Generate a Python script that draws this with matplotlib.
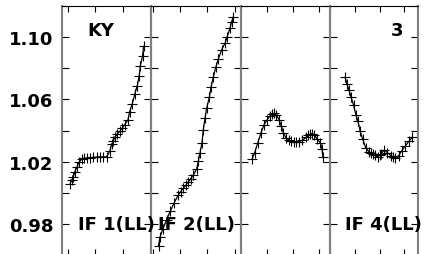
import numpy as np
import matplotlib
matplotlib.use("Agg")
import matplotlib.pyplot as plt

# panel 1 (KY, IF 1)
x1 = [0.07, 0.13, 0.19, 0.25, 0.32, 0.40, 0.50, 0.58, 0.68, 0.80, 0.92, 1.04, 1.16, 1.28,
      1.41, 1.53, 1.59, 1.66, 1.71, 1.80, 1.89, 1.98, 2.07, 2.19, 2.25, 2.35, 2.44, 2.53,
      2.60, 2.64, 2.72, 2.76]
y1 = [1.0055, 1.0080, 1.0101, 1.0135, 1.0164, 1.0195, 1.0217, 1.0222, 1.0223, 1.0226, 1.0227,
      1.0229, 1.0231, 1.0230, 1.0231, 1.0269, 1.0311, 1.0335, 1.0357, 1.0378, 1.0395, 1.0415,
      1.0437, 1.0469, 1.0521, 1.0573, 1.0636, 1.0689, 1.0752, 1.0815, 1.0878, 1.0941]

# panel 2 (IF 2)
x2 = [0.22, 0.27, 0.37, 0.52, 0.64, 0.78, 0.94, 1.03, 1.12, 1.21, 1.30, 1.39, 1.48,
      1.61, 1.67, 1.73, 1.80, 1.85, 1.91, 1.97, 2.07, 2.13, 2.21, 2.30, 2.39, 2.52, 2.64,
      2.72, 2.82, 2.88, 2.94]
y2 = [0.9660, 0.9713, 0.9765, 0.9828, 0.9880, 0.9933, 0.9986, 1.0008, 1.0028, 1.0048,
      1.0069, 1.0090, 1.0112, 1.0154, 1.0206, 1.0258, 1.0321, 1.0406, 1.0479, 1.0542, 1.0616,
      1.0679, 1.0742, 1.0805, 1.0857, 1.0920, 1.0962, 1.1004, 1.1057, 1.1099, 1.1130]

# panel 3
x3 = [0.43, 0.53, 0.65, 0.77, 0.89, 1.01, 1.13, 1.20, 1.28, 1.37, 1.47, 1.56, 1.64, 1.74,
      1.86, 1.95, 2.04, 2.13, 2.23, 2.37, 2.53, 2.60, 2.68, 2.76, 2.83, 2.95, 3.07, 3.13, 3.17]
y3 = [1.0217, 1.0258, 1.0321, 1.0384, 1.0437, 1.0469, 1.0496, 1.0505, 1.0510, 1.0500, 1.0469,
      1.0427, 1.0384, 1.0353, 1.0337, 1.0332, 1.0328, 1.0326, 1.0328, 1.0337, 1.0357, 1.0368,
      1.0378, 1.0380, 1.0374, 1.0343, 1.0321, 1.0280, 1.0227]

# panel 4 (3, IF 4)
x4 = [0.61, 0.68, 0.77, 0.85, 0.95, 1.05, 1.13, 1.22, 1.32, 1.44, 1.56, 1.65, 1.74, 1.83,
      1.92, 2.00, 2.07, 2.19, 2.31, 2.47, 2.55, 2.63, 2.77, 2.89, 3.04, 3.19, 3.32]
y4 = [1.0742, 1.0699, 1.0658, 1.0616, 1.0563, 1.0500, 1.0458, 1.0395, 1.0343, 1.0290, 1.0265,
      1.0255, 1.0248, 1.0240, 1.0231, 1.0240, 1.0252, 1.0274, 1.0258, 1.0238, 1.0230, 1.0221,
      1.0238, 1.0269, 1.0301, 1.0332, 1.0357]

xs = [x1, x2, x3, x4]
ys = [y1, y2, y3, y4]
xlims = [(-0.22, 3.03), (-0.055, 3.22), (0.2, 3.44), (0.35, 3.55)]
top_labels = ["KY", "", "", "3"]
bottom_labels = ["IF 1(LL)", "IF 2(LL)", "", "IF 4(LL)"]
yticks = [0.98, 1.02, 1.06, 1.10]

W, H = 431, 255
fig = plt.figure(figsize=(W / 100, H / 100), dpi=100)

lefts = [62, 151, 241, 330]
rights = [151, 241, 330, 418]
top_px, bot_px = 7, 256

axes = []
for i in range(4):
    ax = fig.add_axes([lefts[i] / W, 1 - bot_px / H, (rights[i] - lefts[i]) / W, (bot_px - top_px) / H])
    ax.plot(xs[i], ys[i], color="black", lw=0.9, marker="+", markersize=7, mew=0.8)
    ax.set_xlim(*xlims[i])
    ax.set_ylim(0.960, 1.117)
    ax.set_xticks([0, 1, 2, 3])
    ax.set_yticks(np.arange(0.96, 1.12, 0.02))
    ax.tick_params(direction="in", top=True, right=True, length=5, width=0.8, colors="black",
                   labelbottom=False, labelleft=(i == 0))
    ax.tick_params(axis="x", length=4)
    if i == 0:
        ax.set_yticklabels(["" if round(v, 2) not in yticks else "%.2f" % v
                            for v in np.arange(0.96, 1.12, 0.02)])
        for lab in ax.get_yticklabels():
            lab.set_fontweight("bold")
            lab.set_fontsize(13)
        ax.tick_params(axis="y", pad=6)
    for s in ["left", "right"]:
        ax.spines[s].set_color("#808080")
        ax.spines[s].set_linewidth(1.5)
    ax.spines["top"].set_color("black")
    ax.spines["bottom"].set_color("black")
    ax.patch.set_alpha(0)
    axes.append(ax)

for i, ax in enumerate(axes):
    if top_labels[i]:
        if i == 0:
            ax.text(0.29, 0.905, top_labels[i], transform=ax.transAxes, fontsize=13,
                    fontweight="bold", ha="left", va="center")
        else:
            ax.text(0.76, 0.905, top_labels[i], transform=ax.transAxes, fontsize=13,
                    fontweight="bold", ha="center", va="center")
    if bottom_labels[i]:
        x0 = [78, 158, 0, 345][i]
        fig.text(x0 / W, 1 - 225 / H, bottom_labels[i], fontsize=13, fontweight="bold",
                 ha="left", va="center", zorder=10)

fig.savefig("out.png", dpi=100)
